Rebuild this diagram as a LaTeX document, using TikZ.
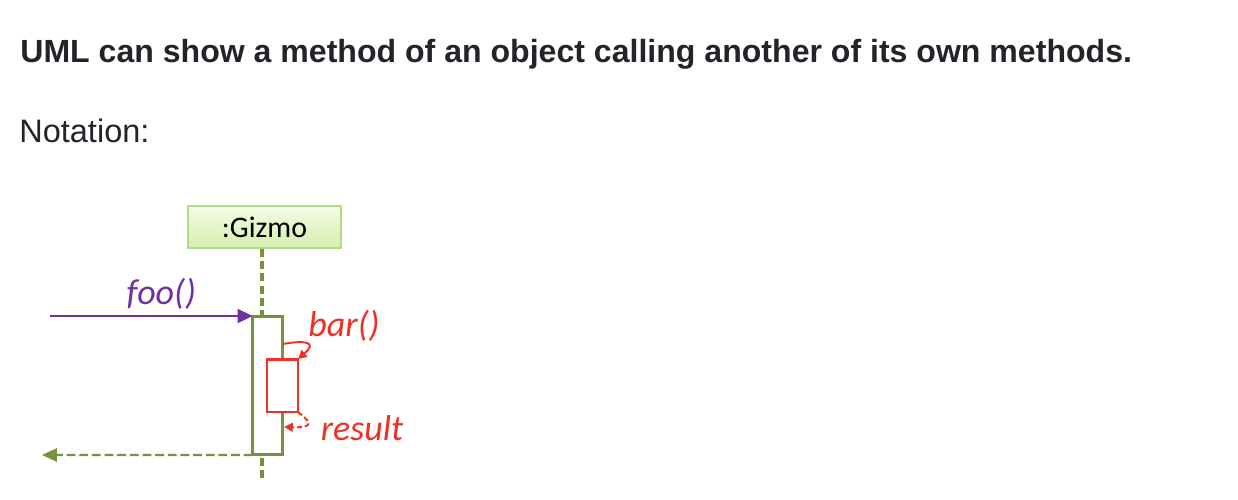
\documentclass[tikz,border=0pt]{standalone}
\usepackage{fontspec}
\setmainfont{Liberation Sans}
\newfontfamily\calibri{Carlito}
\usetikzlibrary{arrows.meta}

\definecolor{inktext}{HTML}{212529}
\definecolor{umlgreen}{HTML}{76923C}
\definecolor{umlpurple}{HTML}{7030A0}
\definecolor{umlred}{HTML}{EE3124}
\definecolor{boxtop}{HTML}{F4FCE4}
\definecolor{boxbot}{HTML}{D4EFAE}
\definecolor{boxline}{HTML}{B3D98A}

\begin{document}
\begin{tikzpicture}[x=0.02cm, y=-0.02cm,
    lifeline/.style={draw=umlgreen, line width=1.8pt, dash pattern=on 4.5pt off 2.5pt},
    activation/.style={draw=umlgreen, line width=1.7pt, fill=white, minimum width=0.6cm, minimum height=2.78cm, inner sep=0pt, outer sep=0pt},
    selfcall/.style={draw=umlred, line width=1.7pt, fill=white, minimum width=0.62cm, minimum height=1.06cm, inner sep=0pt, outer sep=0pt},
    msglabel/.style={font=\calibri\itshape\fontsize{20.5}{24}\selectfont, inner sep=0pt}]
  \useasboundingbox (0,0) rectangle (1238,500);

  \node[anchor=base west, inner sep=0pt, text=inktext, font=\bfseries\fontsize{18.25}{21}\selectfont] (title) at (20,63)
    {UML can show a method of an object calling another of its own methods.};
  \node[anchor=base west, inner sep=0pt, text=inktext, font=\fontsize{18.5}{22}\selectfont] (notation) at (19,143) {Notation:};

  % object and its lifeline
  \node[draw=boxline, line width=0.8pt, top color=boxtop, bottom color=boxbot,
        minimum width=3.06cm, minimum height=0.84cm, font=\calibri\fontsize{17}{20}\selectfont] (gizmo) at (264.5,227) {:Gizmo};
  \coordinate (lifeEnd) at (262,480);
  \draw[lifeline] (gizmo.south -| lifeEnd) -- (lifeEnd);

  \node[activation] (act) at (267.5,385.5) {};
  \node[selfcall] (inner) at (282.5,385.5) {};

  % incoming call and return
  \coordinate (fooStart) at (50,316);
  \coordinate (retEnd) at (42,455);
  \draw[umlpurple, line width=1.1pt, -{Triangle[length=8.5pt, width=8pt]}] (fooStart) -- (act.north west)
    node[msglabel, text=umlpurple, pos=0.55, above=3pt] (foo) {foo()};
  \draw[umlgreen, line width=1.2pt, dash pattern=on 5pt off 2.2pt, -{Triangle[length=8.5pt, width=7.5pt]}] (act.south west) -- (retEnd);

  % call to own method
  \coordinate (barStart) at (283,344);
  \coordinate (resEnd) at (284,427);
  \draw[umlred, line width=1.1pt, -{Triangle[length=5pt, width=5pt]}] (barStart) .. controls (305,340) and (318,342) .. (inner.north east);
  \draw[umlred, line width=1.1pt, dash pattern=on 3pt off 1.5pt, -{Triangle[length=5pt, width=5pt]}] (inner.south east) .. controls (308,420) and (318,428) .. (resEnd);
  \node[msglabel, text=umlred] (bar) at (344,326) {bar()};
  \node[msglabel, text=umlred] (result) at (362,428) {result};
\end{tikzpicture}
\end{document}
